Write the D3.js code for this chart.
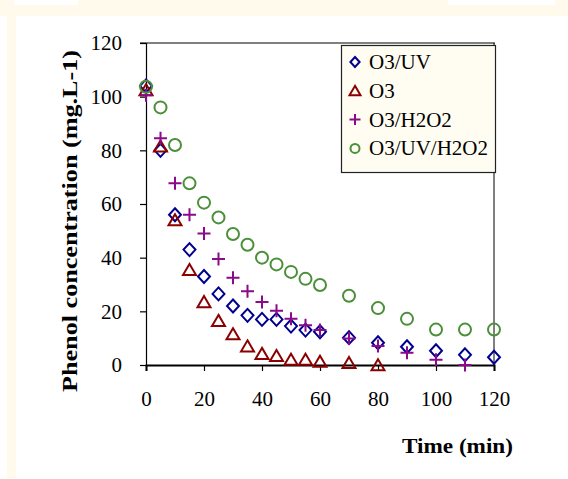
<!DOCTYPE html>
<html>
<head>
<meta charset="utf-8">
<script src="https://cdn.jsdelivr.net/npm/d3@7"></script>
<style>
  body { margin: 0; background: #fff; }
  svg { display: block; }
  text { font-family: "Liberation Serif", "DejaVu Serif", serif; }
</style>
</head>
<body>
<svg id="chart" width="568" height="479"></svg>
<script>
const times = [0, 5, 10, 15, 20, 25, 30, 35, 40, 45, 50, 55, 60, 70, 80, 90, 100, 110, 120];

const o3uv      = [104, 80, 56, 43, 33, 26.5, 22, 18.5, 17, 17, 14.5, 13, 12.4, 10.2, 8.3, 6.8, 5.3, 3.8, 2.9];
const o3        = [102.5, 81.5, 54, 35.5, 23.5, 16.5, 11.5, 7, 4.2, 3.4, 2, 2, 1.3, 0.8, 0, null, null, null, null];
const o3h2o2    = [100.5, 84.5, 67.7, 56, 49, 39.5, 32.5, 27.5, 23.5, 20.2, 17.2, 14.8, 13, 9.9, 7.1, 4.6, 2, 0, null];
const o3uvh2o2  = [103.7, 96, 82, 67.7, 60.5, 55, 48.8, 44.8, 40, 37.5, 34.7, 32.1, 29.8, 25.8, 21.2, 17.2, 13.2, 13.2, 13.2];

const seriesNames = ["O3/UV", "O3", "O3/H2O2", "O3/UV/H2O2"];
const xTicks = [0, 20, 40, 60, 80, 100, 120];
const yTicks = [0, 20, 40, 60, 80, 100, 120];

const svg = d3.select("#chart");
const cream = "#fffaeb";

// page frame around the figure
svg.append("rect").attr("x", 0).attr("y", 0).attr("width", 568).attr("height", 16).attr("fill", cream);
svg.append("rect").attr("x", 14).attr("y", 0).attr("width", 64).attr("height", 5).attr("fill", "#fff");
svg.append("rect").attr("x", 448).attr("y", 0).attr("width", 107).attr("height", 5).attr("fill", "#fff");
svg.append("rect").attr("x", 7).attr("y", 16).attr("width", 9).attr("height", 462).attr("fill", cream);

const x = d3.scaleLinear().domain([0, 120]).range([146, 494]);
const y = d3.scaleLinear().domain([0, 120]).range([365, 43]);

// plot frame: gray top, black right
svg.append("line").attr("x1", 140).attr("x2", 495).attr("y1", y(120)).attr("y2", y(120))
  .attr("stroke", "#808080").attr("stroke-width", 2);
svg.append("line").attr("x1", x(120)).attr("x2", x(120)).attr("y1", y(120)).attr("y2", y(0))
  .attr("stroke", "#000").attr("stroke-width", 1);

// y axis
const yAxis = svg.append("g").attr("transform", `translate(${x(0)},0)`)
  .call(d3.axisLeft(y).tickValues(yTicks).tickSize(6).tickPadding(18));
yAxis.select(".domain").attr("stroke", "#000").attr("stroke-width", 1.2);
yAxis.selectAll(".tick line").attr("stroke", "#000").attr("stroke-width", 1.2);
yAxis.selectAll(".tick text").attr("font-size", 21).attr("fill", "#000")
  .attr("font-family", "Liberation Serif");

// x axis
const xAxis = svg.append("g").attr("transform", `translate(0,${y(0)})`)
  .call(d3.axisBottom(x).tickValues(xTicks).tickSize(6).tickPadding(20));
xAxis.select(".domain").attr("stroke", "#000").attr("stroke-width", 2);
xAxis.selectAll(".tick line").attr("stroke", "#000").attr("stroke-width", 1.2);
xAxis.selectAll(".tick text").attr("font-size", 21).attr("fill", "#000")
  .attr("font-family", "Liberation Serif");

// axis titles
svg.append("text")
  .attr("transform", "translate(77,221) rotate(-90)")
  .attr("text-anchor", "middle")
  .attr("font-size", 22).attr("font-weight", "bold")
  .attr("textLength", 342).attr("lengthAdjust", "spacingAndGlyphs")
  .text("Phenol concentration (mg.L-1)");

svg.append("text")
  .attr("x", 402).attr("y", 453)
  .attr("font-size", 22).attr("font-weight", "bold")
  .attr("textLength", 111).attr("lengthAdjust", "spacingAndGlyphs")
  .text("Time (min)");

// marker shapes
function markerPath(kind, s) {
  if (kind === "diamond") return `M0,${-s}L${s * 0.92},0L0,${s}L${-s * 0.92},0Z`;
  if (kind === "triangle") return `M0,${-s * 0.9}L${s},${s * 0.8}L${-s},${s * 0.8}Z`;
  if (kind === "plus") return `M${-s},0L${s},0M0,${-s}L0,${s}`;
  return null;
}

const styles = [
  { kind: "diamond", color: "#000090", values: o3uv },
  { kind: "triangle", color: "#8b0000", values: o3 },
  { kind: "plus", color: "#8a0a8a", values: o3h2o2 },
  { kind: "circle", color: "#4b8f3a", values: o3uvh2o2 }
];

function drawMarker(g, st, size) {
  if (st.kind === "circle") {
    g.append("circle").attr("r", size).attr("fill", "none")
      .attr("stroke", st.color).attr("stroke-width", 2);
  } else {
    g.append("path").attr("d", markerPath(st.kind, size)).attr("fill", "none")
      .attr("stroke", st.color).attr("stroke-width", 2);
  }
}

const plotSize = { diamond: 6.5, triangle: 6.5, plus: 6.5, circle: 6 };
const legendSize = { diamond: 5, triangle: 5.5, plus: 5.5, circle: 4.5 };

styles.forEach(st => {
  const pts = times.map((t, i) => ({ t, v: st.values[i] })).filter(d => d.v !== null);
  svg.append("g").selectAll("g").data(pts).enter().append("g")
    .attr("transform", d => `translate(${x(d.t)},${y(d.v)})`)
    .each(function () { drawMarker(d3.select(this), st, plotSize[st.kind]); });
});

// legend
const legend = svg.append("g");
legend.append("rect").attr("x", 341.5).attr("y", 45.5).attr("width", 154).attr("height", 127)
  .attr("fill", "#fffdf2").attr("stroke", "#222").attr("stroke-width", 1.2);
seriesNames.forEach((name, i) => {
  const cy = 62 + i * 28.8;
  const g = legend.append("g").attr("transform", `translate(355,${cy})`);
  drawMarker(g, styles[i], legendSize[styles[i].kind]);
  legend.append("text").attr("x", 369).attr("y", cy + 7)
    .attr("font-size", 21).attr("fill", "#000").text(name);
});
</script>
</body>
</html>
